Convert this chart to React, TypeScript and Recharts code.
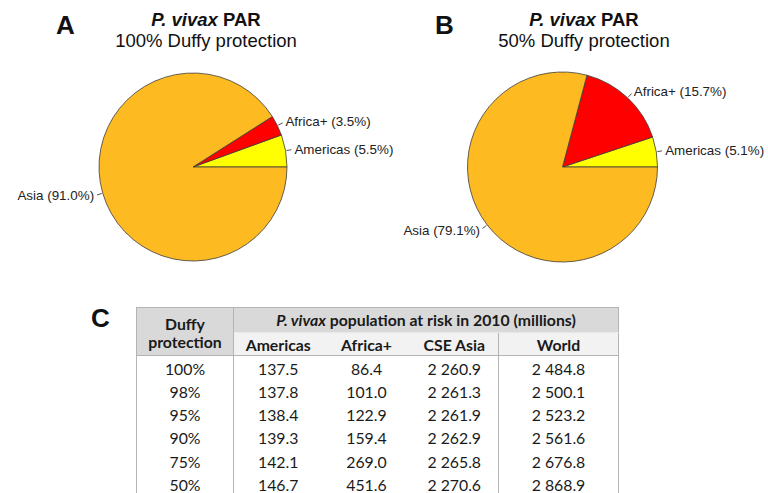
import { PieChart, Pie, Cell } from "recharts";

// pie slices, counter-clockwise from 3 o'clock
const regions = ["Americas", "Africa+", "Asia"];
const regionColors = ["#FFFF00", "#FF0000", "#FDBA21"];

// table C: P. vivax population at risk in 2010 (millions)
const protectionLevels = ["100%", "98%", "95%", "90%", "75%", "50%"];
const americas = [137.5, 137.8, 138.4, 139.3, 142.1, 146.7];
const africa = [86.4, 101.0, 122.9, 159.4, 269.0, 451.6];
const cseAsia = [2260.9, 2261.3, 2261.9, 2262.9, 2265.8, 2270.6];
const world = [2484.8, 2500.1, 2523.2, 2561.6, 2676.8, 2868.9];
const tableColumns = ["Americas", "Africa+", "CSE Asia", "World"];

const regionSeries = [americas, africa, cseAsia];

const pieData = (row: number) =>
	regions.map((name, k) => ({ name, value: regionSeries[k][row] }));

const fmt = (n: number) => {
	const [int, dec] = n.toFixed(1).split(".");
	const grouped = int.replace(/\B(?=(\d{3})+(?!\d))/g, " ");
	return `${grouped}.${dec}`;
};

const font = "'Liberation Sans', Arial, sans-serif";
const tableFont = "Lato, 'Open Sans', sans-serif";

function sliceLabel(props: any) {
	const { cx, cy, midAngle, outerRadius, name, percent } = props;
	const rad = Math.PI / 180;
	const cos = Math.cos(-midAngle * rad);
	const sin = Math.sin(-midAngle * rad);
	const r1 = outerRadius + 1;
	const r2 = outerRadius + 6;
	const r3 = outerRadius + 9;
	return (
		<g>
			<line
				x1={cx + r1 * cos}
				y1={cy + r1 * sin}
				x2={cx + r2 * cos}
				y2={cy + r2 * sin}
				stroke="#555"
				strokeWidth={1}
			/>
			<text
				x={cx + r3 * cos}
				y={cy + r3 * sin}
				textAnchor={cos >= 0 ? "start" : "end"}
				dominantBaseline="central"
				fontSize={13.4}
				fontFamily={font}
				fill="#222"
			>
				{`${name} (${(percent * 100).toFixed(1)}%)`}
			</text>
		</g>
	);
}

function PanelTitle(props: { letter: string; letterX: number; centerX: number; level: string }) {
	return (
		<>
			<div
				style={{
					position: "absolute",
					left: props.letterX,
					top: 10,
					fontFamily: font,
					fontWeight: "bold",
					fontSize: 26,
					lineHeight: "30px",
					color: "#111",
				}}
			>
				{props.letter}
			</div>
			<div
				style={{
					position: "absolute",
					left: props.centerX - 150,
					width: 300,
					top: 9,
					textAlign: "center",
					fontFamily: font,
					fontSize: 18.5,
					lineHeight: "21px",
					color: "#111",
				}}
			>
				<div style={{ fontWeight: "bold" }}>
					<i>P. vivax</i> PAR
				</div>
				<div>{props.level} Duffy protection</div>
			</div>
		</>
	);
}

const border = "1px solid #b4b4b4";
const colWidths = [97, 89, 88, 88, 120];

export default function App() {
	return (
		<div
			style={{
				position: "absolute",
				left: 0,
				top: 0,
				width: 768,
				height: 493,
				background: "#fff",
				overflow: "hidden",
			}}
		>
			<PieChart
				width={768}
				height={300}
				margin={{ top: 0, right: 0, bottom: 0, left: 0 }}
				style={{ position: "absolute", left: 0, top: 0 }}
			>
				<Pie
					data={pieData(0)}
					dataKey="value"
					nameKey="name"
					cx={193}
					cy={167}
					outerRadius={94}
					startAngle={0}
					endAngle={360}
					stroke="#3c3c3c"
					strokeWidth={0.8}
					label={sliceLabel}
					labelLine={false}
					isAnimationActive={false}
				>
					{regions.map((r, i) => (
						<Cell key={r} fill={regionColors[i]} />
					))}
				</Pie>
				<Pie
					data={pieData(5)}
					dataKey="value"
					nameKey="name"
					cx={562.5}
					cy={167}
					outerRadius={95}
					startAngle={0}
					endAngle={360}
					stroke="#3c3c3c"
					strokeWidth={0.8}
					label={sliceLabel}
					labelLine={false}
					isAnimationActive={false}
				>
					{regions.map((r, i) => (
						<Cell key={r} fill={regionColors[i]} />
					))}
				</Pie>
			</PieChart>

			<PanelTitle letter="A" letterX={56} centerX={206} level={protectionLevels[0]} />
			<PanelTitle letter="B" letterX={435} centerX={584} level={protectionLevels[5]} />

			<div
				style={{
					position: "absolute",
					left: 91,
					top: 303,
					fontFamily: font,
					fontWeight: "bold",
					fontSize: 26,
					lineHeight: "30px",
					color: "#111",
				}}
			>
				C
			</div>

			<table
				style={{
					position: "absolute",
					left: 136,
					top: 307,
					borderCollapse: "collapse",
					tableLayout: "fixed",
					width: colWidths.reduce((a, b) => a + b, 0),
					fontFamily: tableFont,
					fontSize: 15.8,
					color: "#1a1a1a",
					border,
				}}
			>
				<colgroup>
					{colWidths.map((w, i) => (
						<col key={i} style={{ width: w }} />
					))}
				</colgroup>
				<thead>
					<tr style={{ height: 25 }}>
						<th
							rowSpan={2}
							style={{
								background: "#d9d9d9",
								borderRight: border,
								borderBottom: border,
								padding: 0,
								lineHeight: "18px",
								paddingTop: 3,
							}}
						>
							Duffy
							<br />
							protection
						</th>
						<th
							colSpan={4}
							style={{
								background: "#d9d9d9",
								padding: 0,
								paddingBottom: 2,
								borderBottom: "1px solid #e8e8e8",
							}}
						>
							<i>P. vivax</i> population at risk in 2010 (millions)
						</th>
					</tr>
					<tr style={{ height: 23 }}>
						{tableColumns.map((c, i) => (
							<th
								key={c}
								style={{
									background: "#f2f2f2",
									padding: 0,
									borderBottom: border,
									borderLeft: i === 3 ? border : undefined,
								}}
							>
								{c}
							</th>
						))}
					</tr>
				</thead>
				<tbody>
					{protectionLevels.map((p, i) => (
						<tr key={p} style={{ height: i === 0 ? 24 : 23.3 }}>
							{[p, fmt(americas[i]), fmt(africa[i]), fmt(cseAsia[i]), fmt(world[i])].map(
								(v, j) => (
									<td
										key={j}
										style={{
											textAlign: "center",
											padding: 0,
											paddingTop: i === 0 ? 2 : 0,
											borderRight: j === 0 ? border : undefined,
											borderLeft: j === 4 ? border : undefined,
										}}
									>
										{v}
									</td>
								),
							)}
						</tr>
					))}
				</tbody>
			</table>
		</div>
	);
}
